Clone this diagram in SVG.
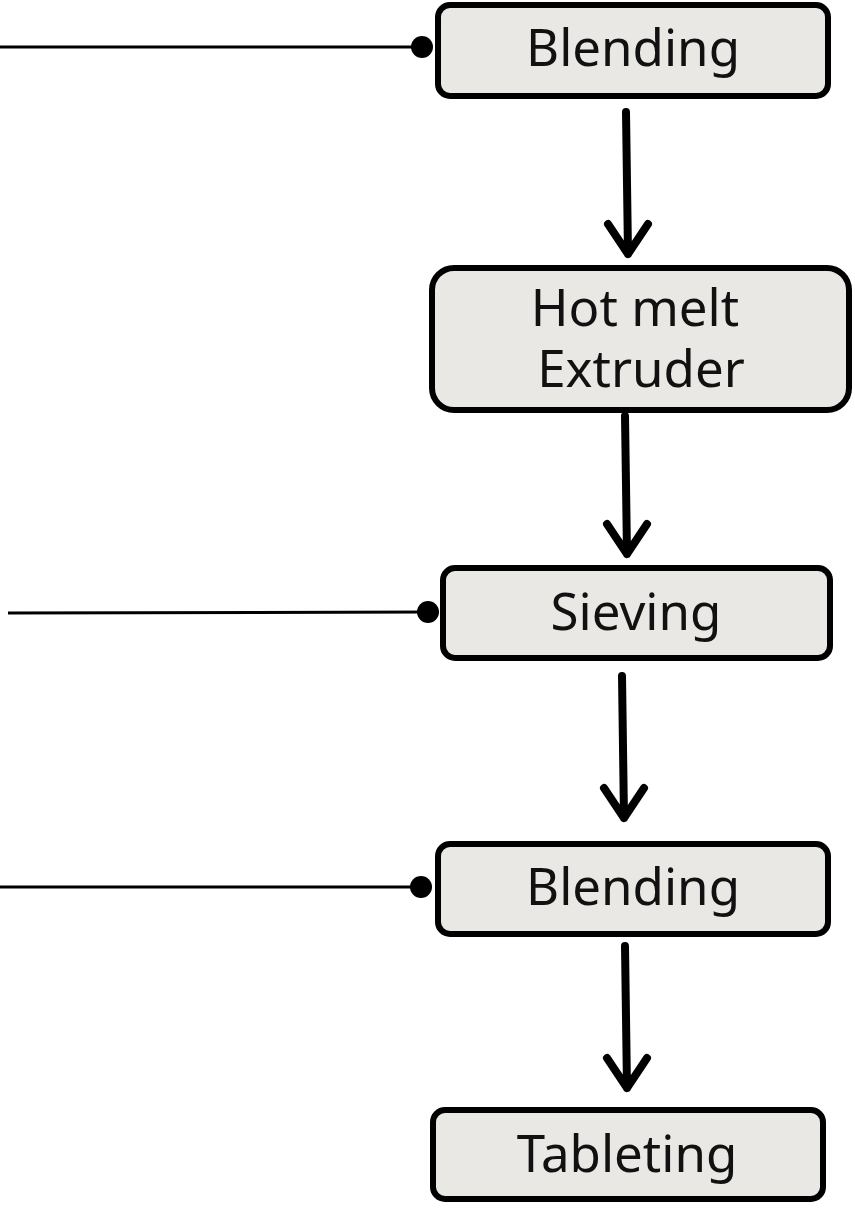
<svg xmlns="http://www.w3.org/2000/svg" width="855" height="1215" viewBox="0 0 855 1215">
<style>
.box{fill:#e9e8e5;stroke:#000;stroke-width:6}
.lbl{font-family:"Noto Sans","Open Sans","DejaVu Sans",sans-serif;font-size:51px;fill:#111;text-anchor:middle}
.feed{stroke:#000;stroke-width:3;fill:none}
.flow{stroke:#000;stroke-width:8;fill:none;stroke-linecap:round;stroke-linejoin:round}
</style>
<g id="connectors">
<line class="feed" x1="0" y1="47" x2="422" y2="47"/>
<circle cx="422" cy="47" r="11"/>
<line class="feed" x1="8" y1="613" x2="428" y2="612"/>
<circle cx="428" cy="612" r="11"/>
<line class="feed" x1="0" y1="887" x2="421" y2="887"/>
<circle cx="421" cy="887" r="11"/>
<path class="flow" d="M626 112 L628 254 M608 224 L628 254 L648 224"/>
<path class="flow" d="M625 416 L627 554 M607 524 L627 554 L647 524"/>
<path class="flow" d="M622 676 L624 818 M604 788 L624 818 L644 788"/>
<path class="flow" d="M625 946 L627 1088 M607 1058 L627 1088 L647 1058"/>
</g>
<g id="node-blending1">
<rect class="box" x="438" y="5" width="390" height="91" rx="12"/>
<text class="lbl" x="633" y="66">Blending</text>
</g>
<g id="node-extruder">
<rect class="box" x="432" y="268" width="417" height="142" rx="22"/>
<text class="lbl" x="635" y="326">Hot melt</text>
<text class="lbl" x="641" y="387">Extruder</text>
</g>
<g id="node-sieving">
<rect class="box" x="443" y="568" width="387" height="90" rx="12"/>
<text class="lbl" x="636" y="630">Sieving</text>
</g>
<g id="node-blending2">
<rect class="box" x="438" y="844" width="390" height="90" rx="12"/>
<text class="lbl" x="633" y="905">Blending</text>
</g>
<g id="node-tableting">
<rect class="box" x="433" y="1110" width="390" height="89" rx="12"/>
<text class="lbl" x="627" y="1172">Tableting</text>
</g>
</svg>
